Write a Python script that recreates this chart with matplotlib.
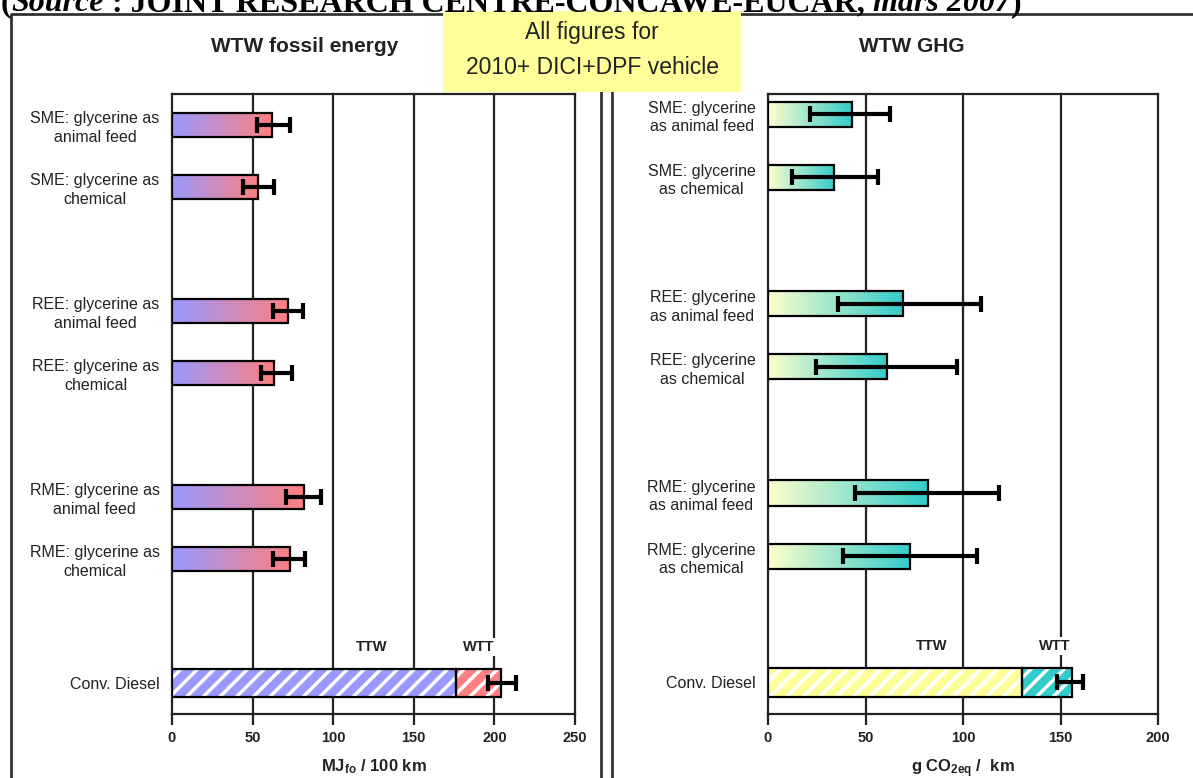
import matplotlib
matplotlib.use("Agg")
import matplotlib.pyplot as plt
import numpy as np
from matplotlib.colors import LinearSegmentedColormap
from matplotlib.patches import Rectangle
from matplotlib.lines import Line2D

plt.rcParams['font.family'] = ['Liberation Sans', 'DejaVu Sans']
plt.rcParams['mathtext.fontset'] = 'custom'
plt.rcParams['mathtext.rm'] = 'Liberation Sans:bold'
plt.rcParams['mathtext.it'] = 'Liberation Sans:bold'
plt.rcParams['mathtext.bf'] = 'Liberation Sans:bold'
plt.rcParams['hatch.linewidth'] = 2.5

# ---------------- data ----------------
labels_left = ["SME: glycerine as\nanimal feed", "SME: glycerine as\nchemical",
               "REE: glycerine as\nanimal feed", "REE: glycerine as\nchemical",
               "RME: glycerine as\nanimal feed", "RME: glycerine as\nchemical",
               "Conv. Diesel"]
labels_right = ["SME: glycerine\nas animal feed", "SME: glycerine\nas chemical",
                "REE: glycerine\nas animal feed", "REE: glycerine\nas chemical",
                "RME: glycerine\nas animal feed", "RME: glycerine\nas chemical",
                "Conv. Diesel"]
group_index = [0, 0, 1, 1, 2, 2, 3]   # SME, REE, RME, Diesel groups

fossil_values = [62, 53.5, 72, 63.5, 82, 73.5]
fossil_low = [53, 44, 62.5, 55, 71, 62.5]
fossil_high = [73, 63.5, 81.5, 74.5, 92.5, 82.5]
diesel_fossil_ttw = 176
diesel_fossil_total = 204
diesel_fossil_low = 196
diesel_fossil_high = 213.5

ghg_values = [43, 34, 69, 61, 82, 73]
ghg_low = [21.5, 12.5, 36, 24.5, 44.5, 38.5]
ghg_high = [62.5, 56.5, 109, 97, 118.5, 107]
diesel_ghg_ttw = 130.5
diesel_ghg_total = 156
diesel_ghg_low = 148
diesel_ghg_high = 161.5

left_ticks = [0, 50, 100, 150, 200, 250]
right_ticks = [0, 50, 100, 150, 200]

# --------------- figure ----------------
W, H = 1193, 778
fig = plt.figure(figsize=(W / 100, H / 100), dpi=100)

def fx(px):
    return px / W

def fy(py):
    return 1 - py / H

# category positions: within-group offset + gap between groups
pos = []
prev_g, p = None, -1
for g in group_index:
    p += 2 if (prev_g is not None and g != prev_g) else 1
    prev_g = g
    pos.append(p)
pos = np.array(pos, dtype=float)

ax1 = fig.add_axes([fx(172), fy(714), fx(575) - fx(172), fy(94) - fy(714)])
ax2 = fig.add_axes([fx(768), fy(714), fx(1158) - fx(768), fy(94) - fy(714)])

cmap_left = LinearSegmentedColormap.from_list("l", ["#9999FF", "#FF8080"])
cmap_right = LinearSegmentedColormap.from_list("r", ["#FFFFCC", "#33CCCC"])
grad = np.linspace(0, 1, 256).reshape(1, -1)


def draw_panel(ax, values, low, high, ttw, total, dlow, dhigh, cmap,
               ttw_color, wtt_color, xmax, ticks, labels, ylim_top,
               ttw_x, wtt_x):
    h = 0.4
    for y, v, lo, hi in zip(pos[:6], values, low, high):
        ax.imshow(grad, cmap=cmap, extent=(0, v, y - h / 2, y + h / 2),
                  aspect='auto', zorder=3, interpolation='bilinear')
        ax.add_patch(Rectangle((0, y - h / 2), v, h, fill=False,
                               edgecolor='black', lw=1.6, zorder=4))
        ax.errorbar(v, y, xerr=[[v - lo], [hi - v]], fmt='none',
                    ecolor='black', elinewidth=3, capsize=6, capthick=3,
                    zorder=5)
    yd = pos[6]
    hd = 0.45
    ax.barh(yd, ttw, height=hd, color=ttw_color, edgecolor='white',
            hatch='//', lw=0, zorder=3)
    ax.barh(yd, total - ttw, left=ttw, height=hd, color=wtt_color,
            edgecolor='white', hatch='//', lw=0, zorder=3)
    ax.barh(yd, ttw, height=hd, fill=False, edgecolor='black', lw=1.6,
            zorder=4)
    ax.barh(yd, total - ttw, left=ttw, height=hd, fill=False,
            edgecolor='black', lw=1.6, zorder=4)
    ax.errorbar(total, yd, xerr=[[total - dlow], [dhigh - total]],
                fmt='none', ecolor='black', elinewidth=3, capsize=6,
                capthick=3, zorder=5)
    ax.text(ttw_x, yd - 0.58, "TTW", ha='center', va='center',
            fontsize=10.5, fontweight='bold', color='#222222', zorder=6,
            bbox=dict(facecolor='white', edgecolor='none', pad=1.5))
    ax.text(wtt_x, yd - 0.58, "WTT", ha='center', va='center',
            fontsize=10.5, fontweight='bold', color='#222222', zorder=6,
            bbox=dict(facecolor='white', edgecolor='none', pad=1.5))

    ax.set_xlim(0, xmax)
    ax.set_ylim(9.5, ylim_top)
    ax.set_xticks(ticks)
    ax.set_xticklabels([str(t) for t in ticks], fontsize=10.5,
                       fontweight='bold', color='#222222')
    for t in ticks[1:-1]:
        ax.axvline(t, color='#222222', lw=1.6, zorder=1)
    ax.set_yticks(pos)
    ax.set_yticklabels(labels, fontsize=11.5, color='#222222',
                       linespacing=1.3)
    for lbl in ax.get_yticklabels():
        lbl.set_multialignment('center')
    ax.tick_params(axis='y', length=0, pad=9)
    ax.tick_params(axis='x', length=8, width=1.6, direction='out', pad=4,
                   color='#222222')
    for s in ax.spines.values():
        s.set_linewidth(1.6)
        s.set_color('#222222')


draw_panel(ax1, fossil_values, fossil_low, fossil_high, diesel_fossil_ttw,
           diesel_fossil_total, diesel_fossil_low, diesel_fossil_high,
           cmap_left, "#9999FF", "#FF8080", 250, left_ticks, labels_left,
           -0.5, 124, 190)
draw_panel(ax2, ghg_values, ghg_low, ghg_high, diesel_ghg_ttw,
           diesel_ghg_total, diesel_ghg_low, diesel_ghg_high,
           cmap_right, "#FFFF99", "#33CCCC", 200, right_ticks, labels_right,
           -0.32, 84, 147)

ax1.set_xlabel(r"MJ$_{\rm fo}$ / 100 km", fontsize=12, fontweight='bold',
               color='#222222', labelpad=9)
ax2.set_xlabel(r"g CO$_{\rm 2eq}$ /  km", fontsize=12, fontweight='bold',
               color='#222222', labelpad=9)

# panel titles
fig.text(fx(305), fy(47), "WTW fossil energy", ha='center', va='center',
         fontsize=15, fontweight='bold', color='#222222')
fig.text(fx(912), fy(47), "WTW GHG", ha='center', va='center',
         fontsize=15, fontweight='bold', color='#222222')

# outer frames
frame_kw = dict(color='#333333', lw=2, transform=fig.transFigure)
fig.add_artist(Line2D([fx(11), fx(11), fx(601), fx(601)],
                      [0, fy(14), fy(14), 0], **frame_kw))
fig.add_artist(Line2D([fx(612), fx(612), 1.0],
                      [0, fy(14), fy(14)], **frame_kw))

# yellow note box
fig.add_artist(Rectangle((fx(443), fy(92)), fx(741) - fx(443),
                         fy(11) - fy(92), transform=fig.transFigure,
                         facecolor='#FFFF99', edgecolor='none', zorder=10))
fig.text(fx(592), fy(32), "All figures for", ha='center', va='center',
         fontsize=16.5, color='#222222', zorder=11)
fig.text(fx(592), fy(68), "2010+ DICI+DPF vehicle", ha='center',
         va='center', fontsize=16.5, color='#222222', zorder=11)

# source line (cut off at the top edge, as in the original)
src_parts = [("(", 'normal'), ("Source", 'italic'),
             (" : JOINT RESEARCH CENTRE-CONCAWE-EUCAR, ", 'normal'),
             ("mars 2007", 'italic'), (")", 'normal')]
fig.canvas.draw()
r = fig.canvas.get_renderer()
x = 1
for txt, style in src_parts:
    t = fig.text(fx(x), fy(11), txt, ha='left', va='baseline',
                 fontsize=23, fontweight='bold', style=style,
                 family=['Liberation Serif'], color='black', zorder=12)
    bb = t.get_window_extent(renderer=r)
    x += bb.width

fig.savefig("out.png", dpi=100)
